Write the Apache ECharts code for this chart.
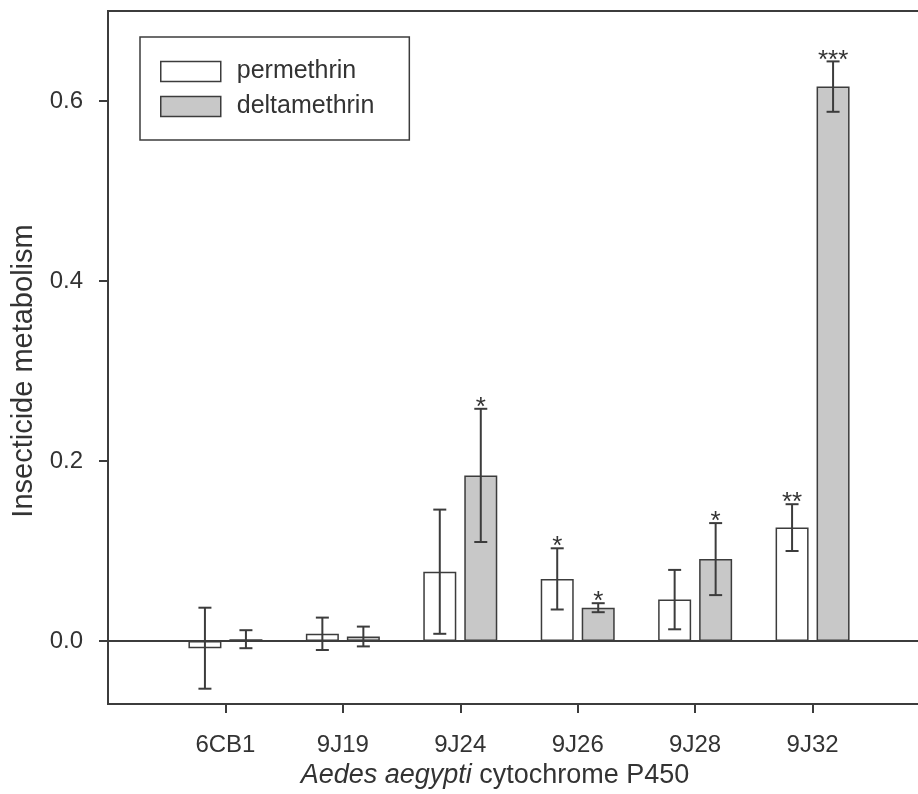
<!DOCTYPE html>
<html>
<head>
<meta charset="utf-8">
<script src="https://cdn.jsdelivr.net/npm/echarts@6/dist/echarts.min.js"></script>
<style>
  html, body { margin: 0; padding: 0; background: #fff; overflow: hidden; }
  /* the original frame runs past the right edge of the picture */
  #chart { width: 933px; height: 794px; }
</style>
</head>
<body>
<div id="chart"></div>
<script>
// data
const categories = ['6CB1', '9J19', '9J24', '9J26', '9J28', '9J32'];
const permMean = [-0.008, 0.008, 0.077, 0.069, 0.046, 0.126];
const permErr = [0.045, 0.018, 0.069, 0.034, 0.033, 0.026];
const permSig = ['', '', '', '*', '', '**'];
const deltaMean = [0.002, 0.005, 0.184, 0.037, 0.091, 0.616];
const deltaErr = [0.010, 0.011, 0.074, 0.005, 0.040, 0.028];
const deltaSig = ['', '', '*', '*', '*', '***'];
const yTicks = [0, 0.2, 0.4, 0.6];

const ink = '#333333';
const line = '#3c3c3c';
const font = 'Liberation Sans, Arial, sans-serif';
const barW = 33;
const gap = 8;
const shift = (barW + gap) / 2;

// empty slot at both ends so the categories sit like the original
const axisData = [''].concat(categories, ['']);
const pad = (arr) => [null].concat(arr, [null]);

function errorBars(mean, err, sig, offset) {
  const data = mean.map((m, i) => [i + 1, m, err[i]]);
  return {
    type: 'custom',
    data: data,
    z: 5,
    silent: true,
    renderItem: function (params, api) {
      const x = api.value(0);
      const m = api.value(1);
      const e = api.value(2);
      const hi = api.coord([x, m + e]);
      const lo = api.coord([x, m - e]);
      const cx = hi[0] + offset;
      const half = 6.5;
      const st = { stroke: line, lineWidth: 2 };
      const kids = [
        { type: 'line', shape: { x1: cx, y1: hi[1], x2: cx, y2: lo[1] }, style: st },
        { type: 'line', shape: { x1: cx - half, y1: hi[1], x2: cx + half, y2: hi[1] }, style: st },
        { type: 'line', shape: { x1: cx - half, y1: lo[1], x2: cx + half, y2: lo[1] }, style: st }
      ];
      const s = sig[params.dataIndex];
      if (s) {
        kids.push({
          type: 'text',
          style: {
            text: s, x: cx, y: hi[1] - 1,
            align: 'center', verticalAlign: 'middle',
            fontSize: 26, fontFamily: font, fill: ink
          }
        });
      }
      return { type: 'group', children: kids };
    }
  };
}

const chart = echarts.init(document.getElementById('chart'));
chart.setOption({
  animation: false,
  textStyle: { fontFamily: font, color: ink },
  grid: {
    left: 108, right: 2, top: 11, bottom: 90,
    show: true, borderColor: line, borderWidth: 2, backgroundColor: 'transparent'
  },
  legend: {
    orient: 'vertical',
    left: 140, top: 37,
    padding: [22, 35, 21, 20],
    borderColor: line, borderWidth: 1.5,
    itemWidth: 60, itemHeight: 20, itemGap: 10,
    icon: 'rect',
    textStyle: { fontSize: 25, color: ink, fontFamily: font, padding: [0, 0, 0, 11] },
    data: [
      { name: 'permethrin', itemStyle: { color: '#fff', borderColor: line, borderWidth: 1.5 } },
      { name: 'deltamethrin', itemStyle: { color: '#c8c8c8', borderColor: line, borderWidth: 1.5 } }
    ]
  },
  xAxis: {
    type: 'category',
    data: axisData,
    boundaryGap: false,
    axisLine: { show: false, onZero: false },
    axisTick: {
      length: 9,
      interval: (i) => i >= 1 && i <= categories.length,
      lineStyle: { color: line, width: 2 }
    },
    axisLabel: { fontSize: 24, color: ink, margin: 29, interval: 0 },
    splitLine: { show: false },
    name: '{i|Aedes aegypti} cytochrome P450',
    nameLocation: 'middle',
    nameGap: 53,
    nameTextStyle: {
      fontSize: 27, color: ink, fontFamily: font, padding: [0, 48, 0, 0],
      rich: { i: { fontStyle: 'italic', fontSize: 27, color: ink, fontFamily: font } }
    }
  },
  yAxis: {
    type: 'value',
    min: -0.07,
    max: 0.7,
    axisLine: { show: false },
    axisTick: {
      show: true, length: 9, customValues: yTicks,
      lineStyle: { color: line, width: 2 }
    },
    axisLabel: {
      fontSize: 24, color: ink, margin: 25, customValues: yTicks,
      formatter: (v) => v.toFixed(1)
    },
    splitLine: { show: false },
    name: 'Insecticide metabolism',
    nameLocation: 'middle',
    nameGap: 70,
    nameTextStyle: { fontSize: 29, color: ink, fontFamily: font, padding: [0, 27, 0, 0] }
  },
  series: [
    {
      name: 'permethrin',
      type: 'bar',
      data: pad(permMean),
      barWidth: barW,
      barGap: (gap / barW * 100).toFixed(1) + '%',
      itemStyle: { color: '#fff', borderColor: line, borderWidth: 1.5 },
      markLine: {
        silent: true,
        symbol: ['none', 'none'],
        label: { show: false },
        lineStyle: { color: line, width: 2, type: 'solid' },
        data: [{ yAxis: 0 }]
      }
    },
    {
      name: 'deltamethrin',
      type: 'bar',
      data: pad(deltaMean),
      barWidth: barW,
      itemStyle: { color: '#c8c8c8', borderColor: line, borderWidth: 1.5 }
    },
    errorBars(permMean, permErr, permSig, -shift),
    errorBars(deltaMean, deltaErr, deltaSig, shift)
  ]
});
</script>
</body>
</html>
